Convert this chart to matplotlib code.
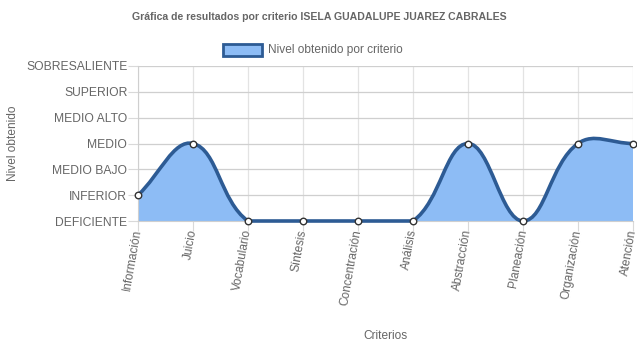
import matplotlib
matplotlib.use("Agg")
import matplotlib.pyplot as plt
import numpy as np
from matplotlib.path import Path
from matplotlib.patches import PathPatch, Rectangle

plt.rcParams["font.family"] = ["Liberation Sans", "DejaVu Sans"]

criterios = ["Información", "Juicio", "Vocabulario", "Síntesis", "Concentración",
             "Análisis", "Abstracción", "Planeación", "Organización", "Atención"]
niveles = ["DEFICIENTE", "INFERIOR", "MEDIO BAJO", "MEDIO", "MEDIO ALTO",
           "SUPERIOR", "SOBRESALIENTE"]
valores = [1, 3, 0, 0, 0, 0, 3, 0, 3, 3]

GRIS = "#666666"
LINEA = "#2d5b94"
RELLENO = "#8dbcf5"

fig = plt.figure(figsize=(6.37, 3.48), dpi=100)
ax = fig.add_axes([138 / 637, 1 - 221 / 348, 495 / 637, 155 / 348])
ax.set_xlim(0, len(criterios) - 1)
ax.set_ylim(0, len(niveles) - 1)


def curva_spline(xs, ys, tension=0.4):
    # puntos de control calculados en pixeles y recortados al area del grafico
    pts = ax.transData.transform(np.column_stack([xs, ys]))
    (x0, y0), (x1, y1) = ax.transData.transform([[0, 0], [xs[-1], len(niveles) - 1]])
    n = len(pts)
    verts, codes = [pts[0]], [Path.MOVETO]
    cps = []
    for i in range(n):
        prev = pts[max(i - 1, 0)]
        cur = pts[i]
        nxt = pts[min(i + 1, n - 1)]
        d01 = np.hypot(*(cur - prev))
        d12 = np.hypot(*(nxt - cur))
        s = d01 + d12
        fa = tension * d01 / s if s else 0
        fb = tension * d12 / s if s else 0
        c1 = cur - fa * (nxt - prev)
        c2 = cur + fb * (nxt - prev)
        for c in (c1, c2):
            c[0] = min(max(c[0], x0), x1)
            c[1] = min(max(c[1], y0), y1)
        cps.append((c1, c2))
    for i in range(1, n):
        verts += [cps[i - 1][1], cps[i][0], pts[i]]
        codes += [Path.CURVE4] * 3
    inv = ax.transData.inverted()
    return inv.transform(np.array(verts)), codes


x = np.arange(len(criterios))
verts, codes = curva_spline(x, valores)

# relleno bajo la curva
fill_verts = np.vstack([verts, [[x[-1], 0], [x[0], 0], verts[0]]])
fill_codes = codes + [Path.LINETO, Path.LINETO, Path.CLOSEPOLY]
ax.add_patch(PathPatch(Path(fill_verts, fill_codes), facecolor=RELLENO,
                       edgecolor="none", zorder=2))
ax.add_patch(PathPatch(Path(verts, codes), facecolor="none", edgecolor=LINEA,
                       lw=2.6, zorder=3, capstyle="round", clip_on=False))
ax.scatter(x, valores, s=22, facecolor="white", edgecolor="#333333",
           linewidth=1.0, zorder=4, clip_on=False)

# ejes y rejilla
ax.set_xticks(x)
ax.set_xticklabels(criterios, rotation=80, ha="right", va="center",
                   rotation_mode="anchor", color=GRIS, fontsize=8.6)
ax.set_yticks(range(len(niveles)))
ax.set_yticklabels(niveles, color=GRIS, fontsize=8.7)
ax.tick_params(axis="both", length=7.2, width=0.8, color="#d9d9d9")
ax.tick_params(axis="y", pad=0.5)
ax.tick_params(axis="x", pad=-1)
ax.grid(True, color="#e3e3e3", lw=0.9, zorder=0)
ax.yaxis.grid(True, color="#cfcfcf")
for side in ["top", "right"]:
    ax.spines[side].set_visible(False)
ax.spines["left"].set_color("#cfcfcf")
ax.spines["bottom"].set_color("#cfcfcf")
ax.set_axisbelow(True)

ax.set_ylabel("Nivel obtenido", color=GRIS, fontsize=8.6)
ax.yaxis.set_label_coords(-119 / 495, 0.5)
fig.text(385 / 637, 1 - 336 / 348, "Criterios", color=GRIS, fontsize=8.6,
         ha="center", va="center")

fig.text(319 / 637, 1 - 17 / 348,
         "Gráfica de resultados por criterio ISELA GUADALUPE JUAREZ CABRALES",
         color=GRIS, fontsize=7.6, fontweight="bold", ha="center", va="center")

# leyenda
fig.patches.append(Rectangle((223 / 637, 1 - 56 / 348), 39 / 637, 12 / 348,
                             transform=fig.transFigure, facecolor=RELLENO,
                             edgecolor=LINEA, lw=2))
fig.text(268 / 637, 1 - 50 / 348, "Nivel obtenido por criterio", color=GRIS,
         fontsize=8.6, ha="left", va="center")

fig.savefig("out.png", dpi=100)
